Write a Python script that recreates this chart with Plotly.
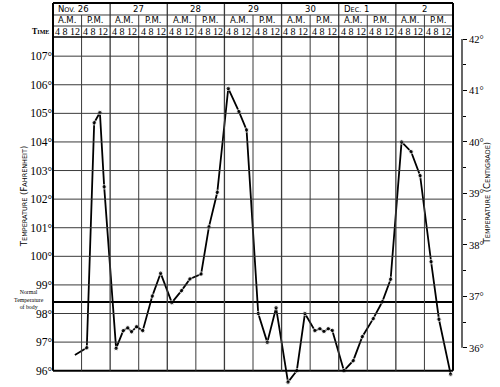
import plotly.graph_objects as go

# ---- data ----
days = ["N<span style='font-size:6.5px'>OV.</span> 26", "27", "28", "29", "30",
        "D<span style='font-size:6.5px'>EC.</span> 1", "2"]
halves = ["A.M.", "P.M."]
time_labels = "4 8 12"
f_ticks = [96, 97, 98, 99, 100, 101, 102, 103, 104, 105, 106, 107]
c_ticks = [36, 37, 38, 39, 40, 41, 42]
normal_temp = 98.4

# hours since midnight, Nov 26
hours = [9.2, 14.2, 17.3, 19.7, 21.5, 26.5, 29.5, 31.4, 33.0, 35.1, 37.7, 41.7,
         45.2, 49.9, 54.0, 57.5, 62.2, 65.5, 69.0, 73.6, 78.1, 81.3, 86.2, 90.0,
         93.7, 98.7, 102.4, 105.8, 110.0, 112.1, 113.8, 115.6, 117.3, 122.2,
         126.1, 129.9, 134.5, 138.3, 141.8, 146.4, 150.4, 154.2, 158.8, 162.1, 167.0]
temps = [96.55, 96.8, 104.67, 105.03, 102.43, 96.78, 97.4, 97.5, 97.36, 97.54, 97.4,
         98.61, 99.41, 98.38, 98.8, 99.21, 99.38, 101.03, 102.24, 105.87, 105.06,
         104.42, 98.0, 96.99, 98.2, 95.6, 96.0, 98.0, 97.4, 97.47, 97.37, 97.47,
         97.41, 96.0, 96.35, 97.19, 97.82, 98.41, 99.2, 104.0, 103.66, 102.82,
         99.81, 97.8, 95.88]

F_LO, F_HI = 95.43, 107.67
X_HI = 24 * len(days)
C_LO, C_HI = (F_LO - 32) * 5 / 9, (F_HI - 32) * 5 / 9

def fx(h):
    return h / X_HI

def fy(f):
    return (f - F_LO) / (F_HI - F_LO)

SERIF = "Liberation Serif, DejaVu Serif, serif"
SANS = "DejaVu Sans, Liberation Sans, sans-serif"
GRID = "#3a3a3a"

fig = go.Figure()
fig.add_trace(go.Scatter(
    x=hours, y=temps, mode="lines+markers",
    line=dict(color="black", width=1.8),
    marker=dict(size=[0] + [4.5] * (len(hours) - 1), color="black"),
    cliponaxis=False, showlegend=False, hoverinfo="skip"))
fig.add_trace(go.Scatter(x=[0], y=[40], yaxis="y2", mode="markers",
                         marker=dict(opacity=0), showlegend=False, hoverinfo="skip"))

shapes = []
def seg(x0, y0, x1, y1, w=1, c=GRID, xref="x domain", yref="y domain"):
    shapes.append(dict(type="line", xref=xref, yref=yref, x0=x0, y0=y0, x1=x1, y1=y1,
                       line=dict(color=c, width=w)))

H_TOP, H_R1, H_R2 = 1.0971, 1.0629, 1.0314
# horizontal grid
for f in f_ticks[1:]:
    seg(0, fy(f), 1, fy(f), 1)
seg(0, fy(96), 1, fy(96), 2, "black")
seg(0, fy(normal_temp), 1, fy(normal_temp), 2, "black")
# verticals
for k in range(1, 2 * len(days)):
    top = H_TOP if k % 2 == 0 else H_R1
    seg(fx(12 * k), fy(96), fx(12 * k), top, 1.3 if k % 2 == 0 else 1)
# header horizontals
seg(0, H_TOP, 1, H_TOP, 2, "black")
seg(0, H_R1, 1, H_R1, 1)
seg(0, H_R2, 1, H_R2, 1)
seg(0, 1.0, 1, 1.0, 1.6, "black")
# borders
seg(0, fy(96), 0, H_TOP, 2, "black")
seg(1, fy(96), 1, H_TOP, 2, "black")
# centigrade axis line
seg(462 / 500, fy(c_ticks[0] * 9 / 5 + 32), 462 / 500, fy(c_ticks[-1] * 9 / 5 + 32),
    1.2, "black", xref="paper")

ann = []
def note(**kw):
    base = dict(showarrow=False, xanchor="center", yanchor="middle")
    base.update(kw)
    ann.append(base)

for d, lab in enumerate(days):
    if d in (0, 5):
        note(x=fx(24 * d), y=(H_TOP + H_R1) / 2, xref="x domain", yref="y domain",
             text=lab, xanchor="left", xshift=3,
             font=dict(family=SANS, size=8.5, color="black"))
    else:
        note(x=fx(24 * d + 12), y=(H_TOP + H_R1) / 2, xref="x domain", yref="y domain",
             text=lab, font=dict(family=SANS, size=8.5, color="black"))
    for i, hl in enumerate(halves):
        c = 24 * d + 12 * i + 6
        note(x=fx(c), y=(H_R1 + H_R2) / 2, xref="x domain", yref="y domain",
             text=hl, font=dict(family=SANS, size=8.5, color="black"))
        note(x=fx(c), y=(H_R2 + 1.0) / 2, xref="x domain", yref="y domain",
             text=time_labels, font=dict(family=SERIF, size=10, color="black"))
note(x=40 / 500, y=(H_R2 + 1.0) / 2, xref="paper", yref="y domain",
     text="<b>T<span style='font-size:6px'>IME</span></b>",
     font=dict(family=SERIF, size=8, color="black"))
note(x=29 / 500, y=98.49, xref="paper", yref="y",
     text="Normal<br>Temperature<br>of body",
     font=dict(family=SERIF, size=5.8, color="black"))
note(x=24 / 500, y=102.07, xref="paper", yref="y", textangle=-90,
     text="T<span style='font-size:6.5px'>EMPERATURE</span> (F<span style='font-size:6.5px'>AHRENHEIT</span>)",
     font=dict(family=SANS, size=8.5, color="black"))
note(x=487 / 500, y=102.2, xref="paper", yref="y", textangle=-90,
     text="T<span style='font-size:6.5px'>EMPERATURE</span> (C<span style='font-size:6.5px'>ENTIGRADE</span>)",
     font=dict(family=SANS, size=8.5, color="black"))

fig.update_layout(
    template="none",
    width=500, height=387, margin=dict(l=0, r=0, t=0, b=0, pad=0),
    paper_bgcolor="white", plot_bgcolor="white", font=dict(color="black"),
    shapes=shapes, annotations=ann, showlegend=False,
    xaxis=dict(domain=[53 / 500, 453 / 500], range=[0, X_HI], visible=False,
               fixedrange=True, automargin=False),
    yaxis=dict(domain=[0, 350 / 387], range=[F_LO, F_HI], tickvals=f_ticks,
               ticktext=[f"{t}°" for t in f_ticks], showgrid=False, zeroline=False,
               showline=False, ticks="", automargin=False,
               tickfont=dict(family=SERIF, size=11.5, color="black")),
    yaxis2=dict(overlaying="y", anchor="free", position=462 / 500, side="right",
                range=[C_LO, C_HI], tickvals=c_ticks, ticktext=[f"{t}°" for t in c_ticks],
                ticks="outside", ticklen=4, tickwidth=1, tickcolor="black",
                minor=dict(tickvals=[t + 0.5 for t in c_ticks[:-1]], ticks="outside",
                           ticklen=3, tickcolor="black", showgrid=False),
                showgrid=False, zeroline=False, showline=False, automargin=False,
                tickfont=dict(family=SERIF, size=10.5, color="black")),
)
fig.write_html("out.html")
